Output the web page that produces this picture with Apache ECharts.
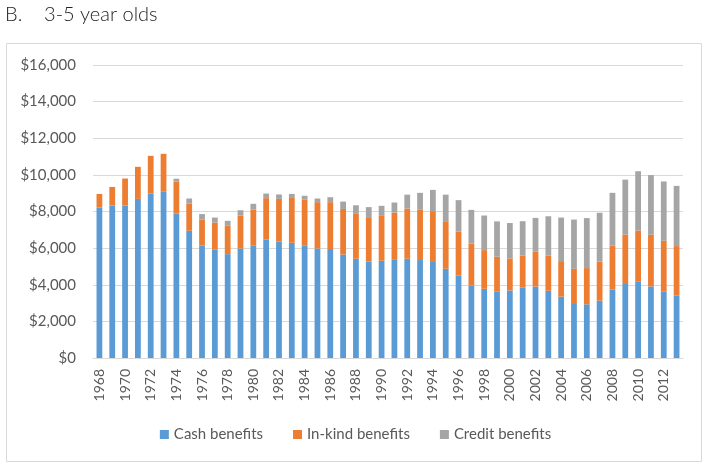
<!DOCTYPE html>
<html>
<head>
<meta charset="utf-8">
<script src="https://cdn.jsdelivr.net/npm/echarts@6/dist/echarts.min.js"></script>
<style>
html,body{margin:0;padding:0;background:#fff;}
#chart{width:711px;height:469px;}
</style>
</head>
<body>
<div id="chart"></div>
<script>
const years = ['1968','1969','1970','1971','1972','1973','1974','1975','1976','1977','1978','1979','1980','1981','1982','1983','1984','1985','1986','1987','1988','1989','1990','1991','1992','1993','1994','1995','1996','1997','1998','1999','2000','2001','2002','2003','2004','2005','2006','2007','2008','2009','2010','2011','2012','2013'];
const cashBenefits = [8220,8330,8330,8690,8980,9110,7890,6950,6150,5910,5670,5980,6130,6470,6360,6290,6130,5980,5950,5650,5420,5260,5310,5360,5420,5350,5290,4870,4510,3960,3780,3640,3690,3840,3900,3670,3350,3000,2930,3130,3730,4090,4160,3910,3640,3420];
const inKindBenefits = [740,1010,1470,1750,2060,2040,1750,1490,1400,1490,1550,1800,1980,2260,2330,2450,2530,2530,2560,2490,2450,2430,2450,2580,2740,2740,2730,2560,2400,2290,2110,1890,1750,1760,1900,1930,1940,1870,1980,2130,2400,2650,2800,2820,2760,2690];
const creditBenefits = [0,0,0,0,0,0,150,270,310,270,270,290,310,250,240,220,200,200,270,400,470,550,550,550,760,930,1160,1490,1710,1840,1890,1930,1930,1870,1850,2140,2380,2690,2730,2670,2890,3000,3240,3260,3240,3290];
const yTicks = [0,2000,4000,6000,8000,10000,12000,14000,16000];

const font = 'Lato, "Open Sans", sans-serif';
const chart = echarts.init(document.getElementById('chart'), null, {renderer:'canvas'});
const mk = (name, data, color) => ({
  name, type:'bar', stack:'total', data, barWidth:'45%',
  itemStyle:{color}, emphasis:{disabled:true}
});
chart.setOption({
  animation:false,
  textStyle:{fontFamily:font},
  graphic:[
    {type:'text', left:5, top:5, style:{text:'B.    3-5 year olds', font:'300 20px '+font, fill:'#222'}},
    {type:'rect', shape:{x:6.5, y:43.5, width:695, height:418}, style:{fill:'none', stroke:'#D9D9D9', lineWidth:1}, z:-1}
  ],
  grid:{left:93, right:28, top:65, bottom:111, containLabel:false},
  legend:{
    bottom:22, left:'center', itemWidth:9, itemHeight:9, itemGap:30,
    icon:'rect',
    textStyle:{color:'#595959', fontSize:15, fontFamily:font},
    data:['Cash benefits','In-kind benefits','Credit benefits']
  },
  xAxis:{
    type:'category', data:years,
    axisLine:{lineStyle:{color:'#D9D9D9'}},
    axisTick:{show:false},
    axisLabel:{interval:1, rotate:90, color:'#595959', fontSize:14, margin:11, fontFamily:font}
  },
  yAxis:{
    type:'value', min:yTicks[0], max:yTicks[yTicks.length-1], interval:2000,
    axisLine:{show:false}, axisTick:{show:false},
    splitLine:{lineStyle:{color:'#D9D9D9', width:1}},
    axisLabel:{color:'#595959', fontSize:15, margin:17, fontFamily:font,
      formatter:v=>'$'+v.toLocaleString('en-US')}
  },
  series:[
    mk('Cash benefits', cashBenefits, '#5B9BD5'),
    mk('In-kind benefits', inKindBenefits, '#ED7D31'),
    mk('Credit benefits', creditBenefits, '#A5A5A5')
  ]
});
</script>
</body>
</html>
